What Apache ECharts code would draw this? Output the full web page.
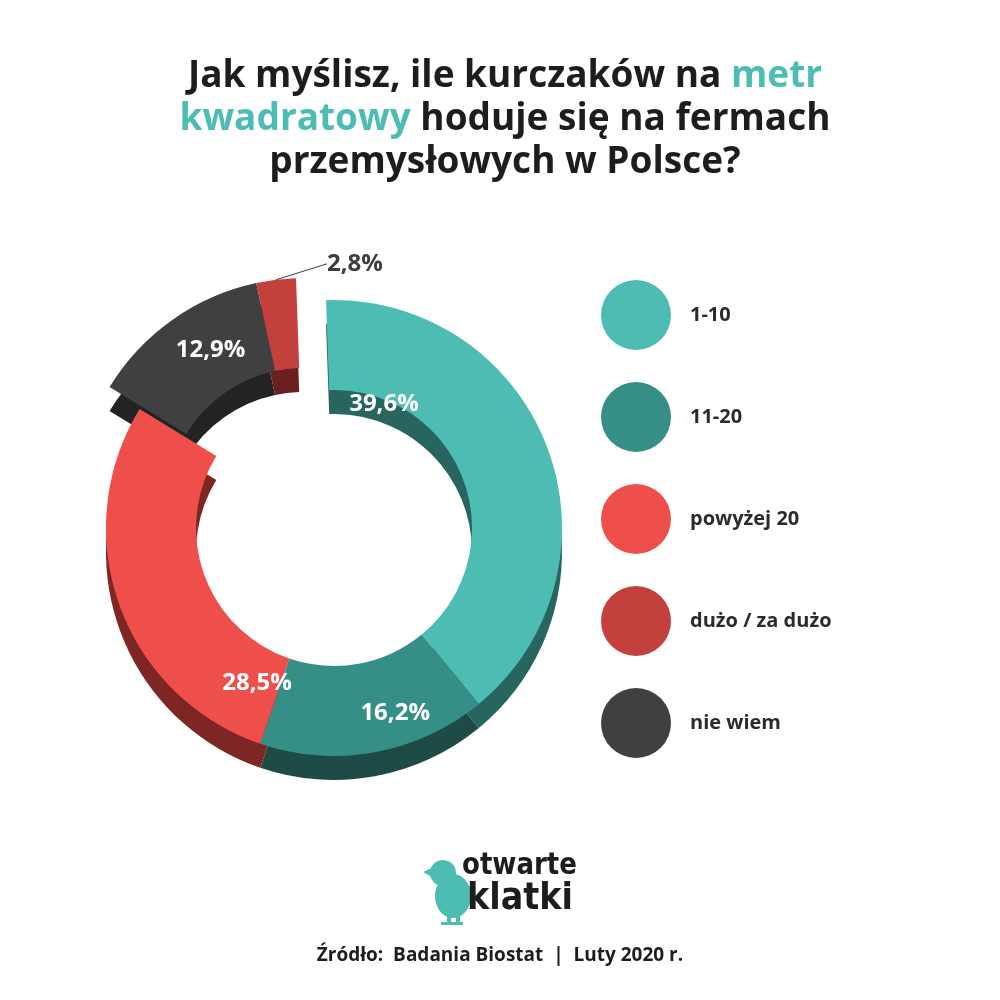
<!DOCTYPE html>
<html>
<head>
<meta charset="utf-8">
<script src="https://cdn.jsdelivr.net/npm/echarts@6/dist/echarts.min.js"></script>
<style>
  html, body { margin: 0; padding: 0; background: #fff; }
  #main { width: 1000px; height: 1000px; }
</style>
</head>
<body>
<div id="main"></div>
<script>
// dane z ankiety
const categories = ['1-10', '11-20', 'powyżej 20', 'dużo / za dużo', 'nie wiem'];
const values = [39.6, 16.2, 28.5, 2.8, 12.9];
const topColors = ['#4dbdb3', '#368f86', '#ef4f4a', '#c3403d', '#404042'];
const sideColors = ['#28655f', '#1f4b47', '#7d2625', '#6b1f1e', '#232323'];
// ktore kawalki sa wysuniete
const exploded = [false, false, false, true, true];

// kolejnosc na wykresie: 1-10, 11-20, powyzej 20, nie wiem, duzo
const order = [0, 1, 2, 4, 3];

const FONT = '"Open Sans", Lato, sans-serif';
const CX = 334, CY = 528;
const R_IN = 138, R_OUT = 228;
const DEPTH = 24;
const SHIFT_X = -30, SHIFT_Y = -22;

// przesuniecia etykiet, zeby lezaly jak na oryginale
const labelNudge = {
  '1-10': [-124, -58],
  '11-20': [28, 2],
  'powyżej 20': [98, 92],
  'nie wiem': [14, -4],
  'dużo / za dużo': [114, 2]
};

function fmt(v) {
  return v.toFixed(1).replace('.', ',') + '%';
}

function ringData(colors, wantExploded, withLabels) {
  return order.map(function (i) {
    const show = exploded[i] === wantExploded;
    const item = {
      name: categories[i],
      value: values[i],
      itemStyle: { color: show ? colors[i] : 'transparent' },
      label: { show: withLabels && show },
      labelLine: { show: false }
    };
    if (withLabels && show && values[i] < 5) {
      item.label = {
        show: true, position: 'outside', color: '#3d3d3f',
        fontSize: 24, fontWeight: 'bold', fontFamily: FONT
      };
      item.labelLine = { show: true, length: 18, length2: 0, lineStyle: { color: '#3d3d3f', width: 1 } };
    }
    return item;
  });
}

function ring(name, cx, cy, colors, wantExploded, withLabels, z) {
  return {
    name: name,
    type: 'pie',
    center: [cx, cy],
    radius: [R_IN, R_OUT],
    startAngle: 92,
    clockwise: true,
    silent: true,
    animation: false,
    legendHoverLink: false,
    z: z,
    label: {
      show: withLabels,
      position: 'inside',
      formatter: function (p) { return fmt(p.value); },
      color: '#fff',
      fontSize: 24,
      fontWeight: 'bold',
      fontFamily: FONT
    },
    labelLine: { show: false },
    labelLayout: function (p) {
      const i = order[p.dataIndex];
      const n = labelNudge[categories[i]];
      if (!n) return {};
      if (values[i] < 5) {
        // etykieta zewnetrzna: x/y, zeby linia sie przeliczyla
        return {
          x: p.labelRect.x + n[0],
          y: p.labelRect.y + p.labelRect.height / 2 + n[1],
          align: 'left',
          verticalAlign: 'middle'
        };
      }
      return { dx: n[0], dy: n[1] };
    },
    emphasis: { disabled: true },
    data: ringData(colors, wantExploded, withLabels)
  };
}

const chart = echarts.init(document.getElementById('main'));

chart.setOption({
  backgroundColor: '#fff',
  title: {
    text: 'Jak myślisz, ile kurczaków na {t|metr}\n{t|kwadratowy} hoduje się na fermach\nprzemysłowych w Polsce?',
    left: 500,
    top: 50,
    textAlign: 'center',
    textStyle: {
      fontSize: 37,
      fontWeight: 'bold',
      fontFamily: FONT,
      color: '#1d1d1b',
      lineHeight: 43,
      rich: {
        t: { fontSize: 37, fontWeight: 'bold', fontFamily: FONT, color: '#4dbdb3', lineHeight: 43 }
      }
    }
  },
  legend: {
    orient: 'vertical',
    left: 596,
    top: 275,
    icon: 'circle',
    itemWidth: 70,
    itemHeight: 70,
    itemGap: 32,
    selectedMode: false,
    data: categories.map(function (c, i) {
      return { name: c, itemStyle: { color: topColors[i] } };
    }),
    textStyle: {
      fontSize: 20,
      fontWeight: 'bold',
      fontFamily: FONT,
      color: '#2b2b2b',
      padding: [0, 0, 0, 14]
    }
  },
  series: [
    // boki (glebokosc)
    ring('bok', CX, CY + DEPTH, sideColors, false, false, 1),
    ring('bok2', CX + SHIFT_X, CY + SHIFT_Y + DEPTH, sideColors, true, false, 1),
    // wierzch
    ring('wierzch', CX, CY, topColors, false, true, 3),
    ring('wierzch2', CX + SHIFT_X, CY + SHIFT_Y, topColors, true, true, 3)
  ],
  graphic: [
    // logo: kurczak
    {
      type: 'group',
      left: 423,
      top: 860,
      children: [
        { type: 'ellipse', shape: { cx: 30, cy: 38, rx: 18, ry: 22 }, style: { fill: '#4dbdb3' } },
        { type: 'circle', shape: { cx: 20, cy: 15, r: 13 }, style: { fill: '#4dbdb3' } },
        { type: 'polygon', shape: { points: [[9, 10], [0, 14], [9, 19]] }, style: { fill: '#4dbdb3' } },
        { type: 'polygon', shape: { points: [[34, 18], [48, 30], [46, 48], [32, 46]] }, style: { fill: '#4dbdb3' } },
        { type: 'rect', shape: { x: 24, y: 56, width: 4, height: 10 }, style: { fill: '#4dbdb3' } },
        { type: 'rect', shape: { x: 33, y: 56, width: 4, height: 10 }, style: { fill: '#4dbdb3' } },
        { type: 'rect', shape: { x: 18, y: 64, width: 22, height: 3 }, style: { fill: '#4dbdb3' } }
      ]
    },
    {
      type: 'text',
      x: 462,
      y: 850,
      scaleX: 0.84,
      style: {
        text: 'otwarte',
        font: 'bold 31px "DejaVu Sans", sans-serif',
        fill: '#1d1d1b'
      }
    },
    {
      type: 'text',
      x: 467,
      y: 880,
      scaleX: 0.88,
      style: {
        text: 'klatki',
        font: 'bold 38px "DejaVu Sans", sans-serif',
        fill: '#1d1d1b'
      }
    },
    {
      type: 'text',
      left: 'center',
      top: 946,
      style: {
        text: 'Źródło:  Badania Biostat  |  Luty 2020 r.',
        font: 'bold 19px "Open Sans", Lato, sans-serif',
        fill: '#1d1d1b'
      }
    }
  ]
});
</script>
</body>
</html>
